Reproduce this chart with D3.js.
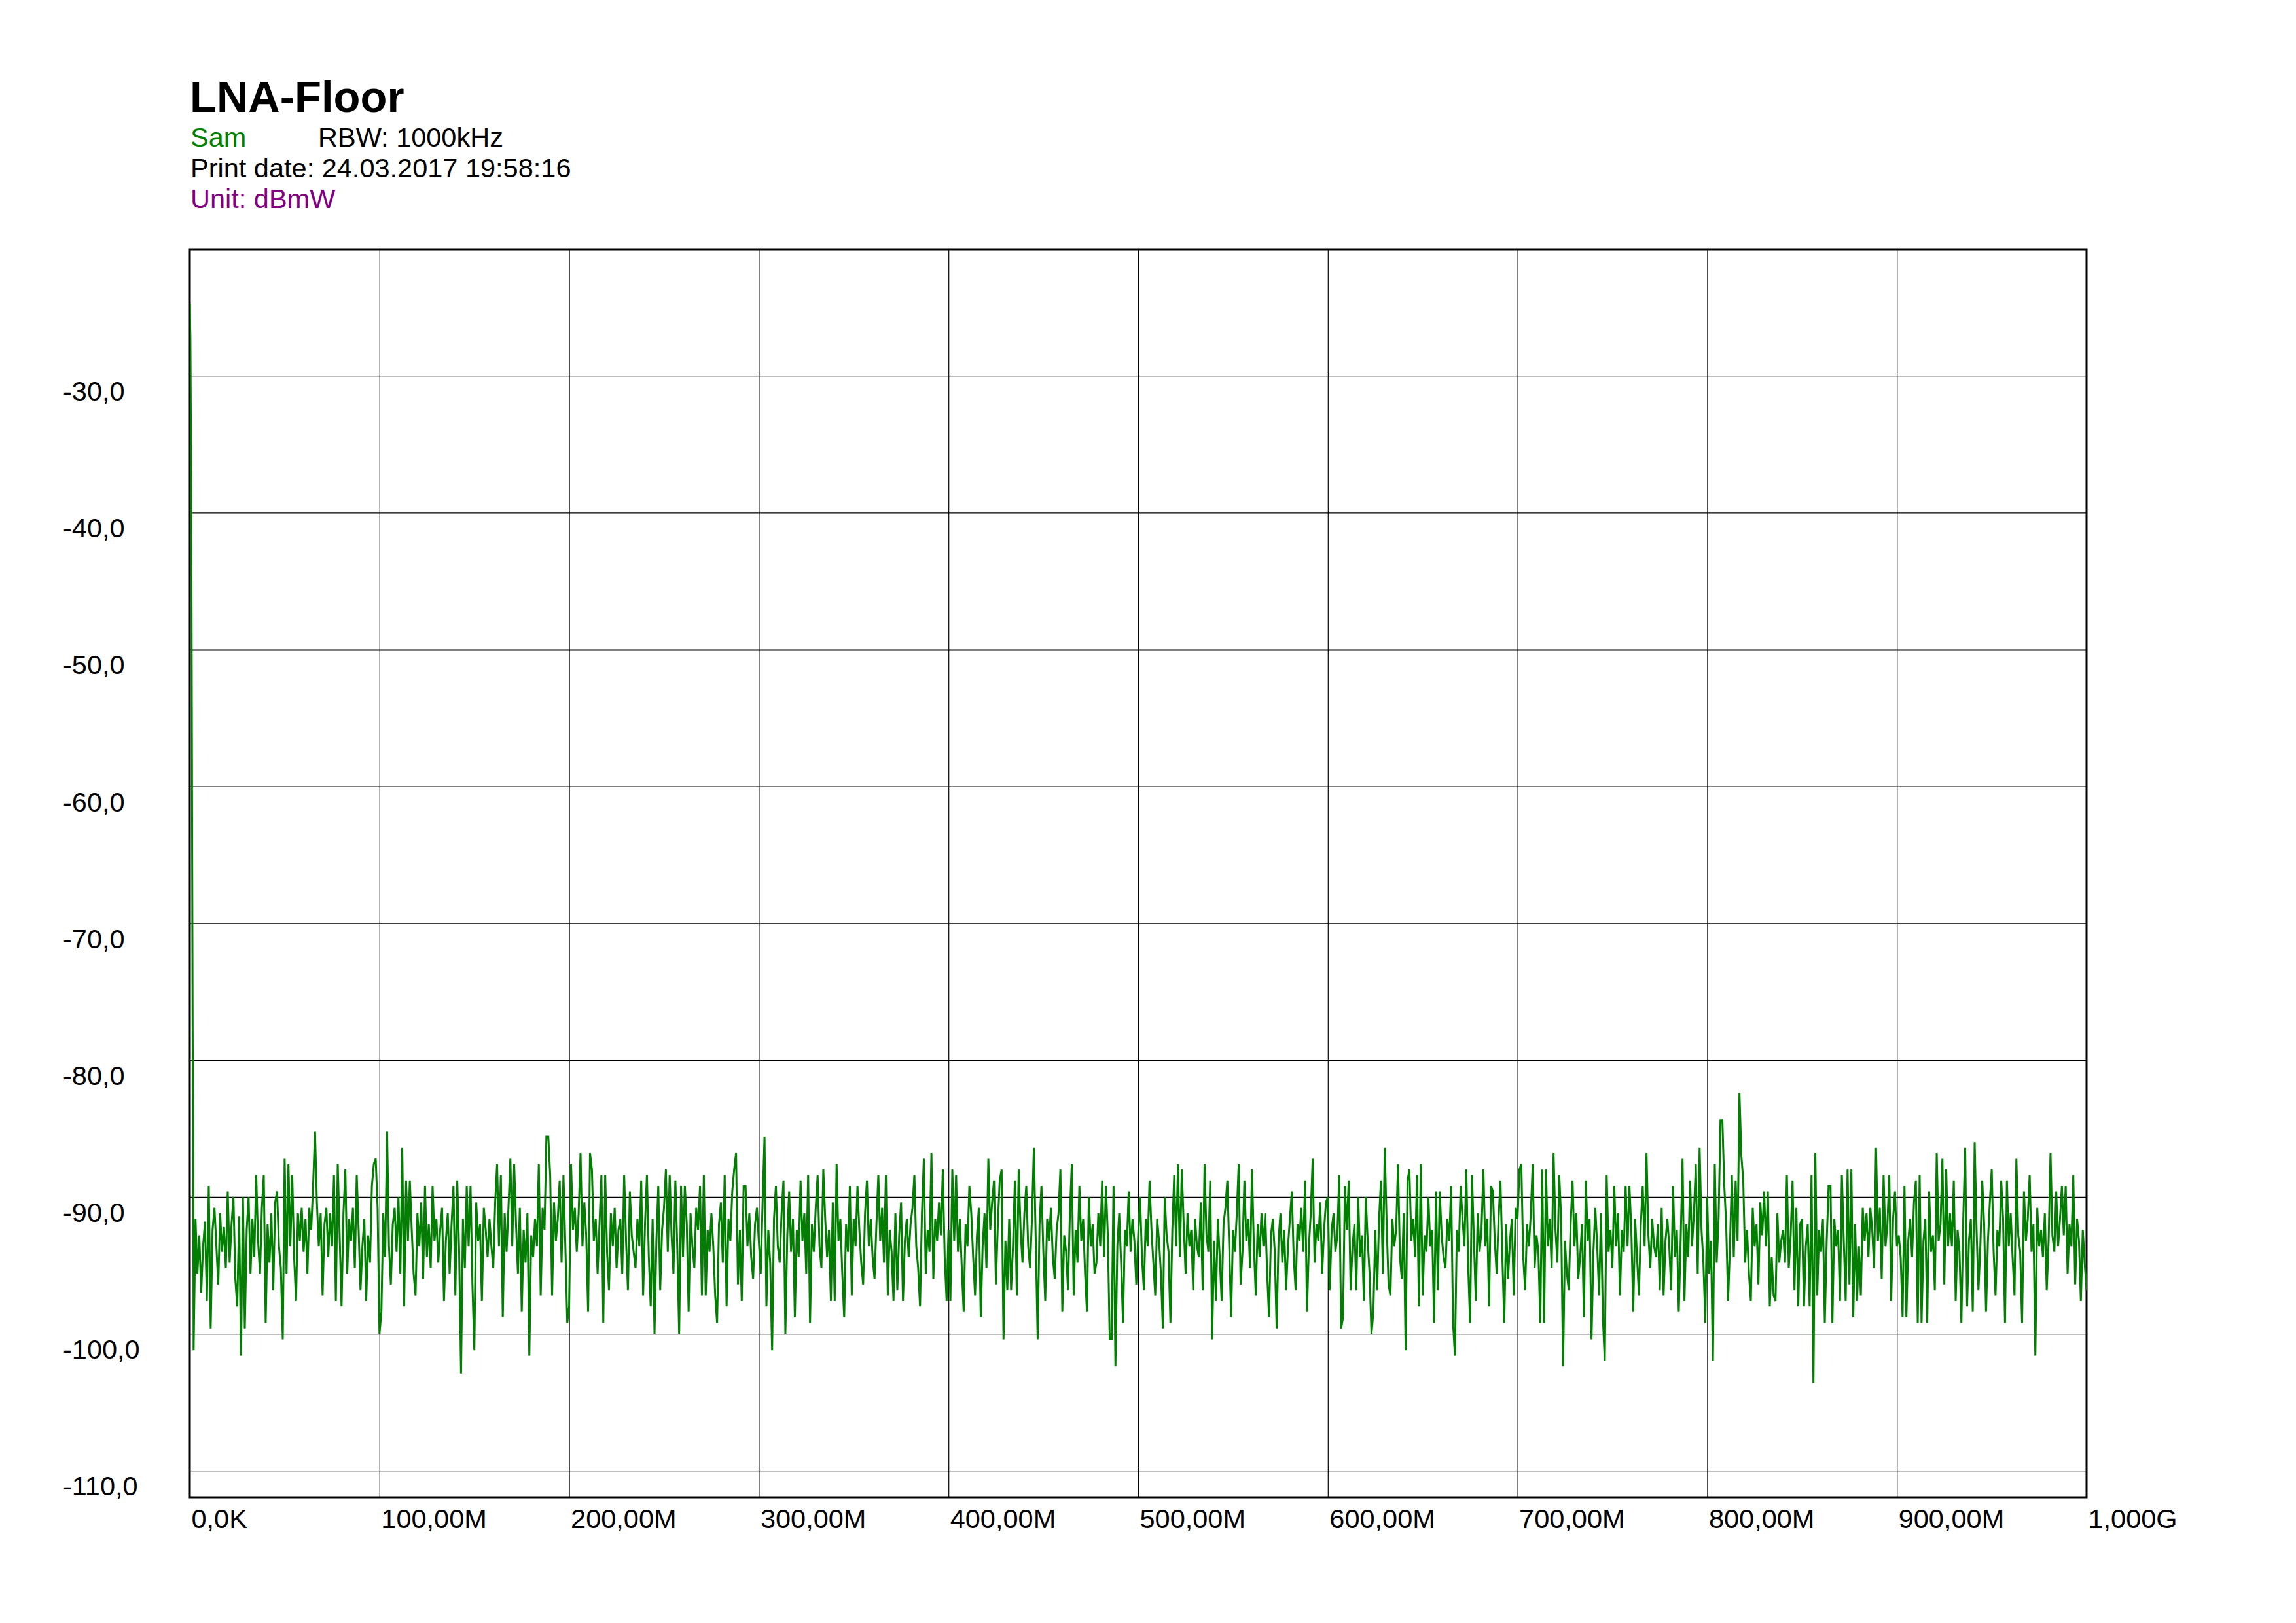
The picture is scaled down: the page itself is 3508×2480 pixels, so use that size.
<!DOCTYPE html>
<html>
<head>
<meta charset="utf-8">
<script src="https://cdn.jsdelivr.net/npm/d3@7"></script>
<style>
  html, body { margin: 0; padding: 0; background: #ffffff; }
  svg { display: block; }
  text { font-family: "Liberation Sans", Arial, Helvetica, sans-serif; }
</style>
</head>
<body>
<script>
// ---------------- DATA ----------------
const chartTitle = "LNA-Floor";
const traceName = "Sam";
const rbwText = "RBW: 1000kHz";
const printDate = "Print date: 24.03.2017 19:58:16";
const unitText = "Unit: dBmW";

// frequency axis (MHz)
const xTickValues = [0, 100, 200, 300, 400, 500, 600, 700, 800, 900, 1000];
const xTickLabels = ["0,0K", "100,00M", "200,00M", "300,00M", "400,00M", "500,00M",
                     "600,00M", "700,00M", "800,00M", "900,00M", "1,000G"];
// level axis (dBmW)
const yTickValues = [-30, -40, -50, -60, -70, -80, -90, -100, -110];
const yTickLabels = ["-30,0", "-40,0", "-50,0", "-60,0", "-70,0", "-80,0", "-90,0", "-100,0", "-110,0"];
const yDomain = [-111.95, -20.76];
const xDomain = [0, 1000];

// carrier skirt near 0 Hz (MHz, dBmW)
const peakFreqMHz = [0, 0.3, 0.6, 0.9, 1.2, 1.5, 1.8];
const peakLevel   = [-24.7, -27.2, -34.9, -45.5, -61.9, -77.7, -87.3];

// noise floor trace, 1 MHz steps from 2 MHz to 1000 MHz
const noiseStartMHz = 2;
const noiseStepMHz = 1;
const noiseLevel = [
  // 2-9
  -101.2, -91.6, -95.6, -92.8, -97.0, -93.6, -91.8, -97.6,
  // 10-99
  -89.2, -99.6, -92.4, -90.8, -93.6, -96.4, -91.2, -94.0, -92.2, -95.2,
  -89.6, -94.8, -92.0, -90.0, -96.0, -98.0, -91.4, -101.6, -90.0, -99.6,
  -92.4, -90.0, -95.6, -91.6, -94.4, -88.4, -93.2, -95.6, -90.8, -88.4,
  -99.2, -92.0, -94.8, -91.2, -96.8, -90.4, -89.6, -93.6, -95.2, -100.4,
  -87.2, -95.6, -87.6, -93.6, -88.4, -94.4, -97.6, -91.2, -93.2, -90.8,
  -94.0, -91.6, -95.6, -90.8, -92.4, -89.2, -85.2, -90.4, -93.6, -91.2,
  -97.2, -92.0, -90.8, -94.4, -91.2, -93.6, -88.4, -97.6, -87.6, -92.8,
  -98.0, -91.2, -88.0, -95.6, -91.6, -93.2, -90.8, -95.2, -88.4, -92.4,
  -96.8, -93.6, -91.6, -97.6, -92.8, -94.8, -89.2, -87.6, -87.2, -90.8,
  // 100-199
  -100.0, -98.4, -91.2, -94.4, -85.2, -93.6, -96.4, -92.0, -90.8, -94.0,
  -90.0, -95.6, -86.4, -98.0, -88.8, -93.2, -88.8, -92.4, -95.6, -97.2,
  -91.2, -93.6, -90.4, -96.0, -89.2, -94.4, -92.0, -95.2, -89.2, -93.2,
  -91.6, -94.8, -92.4, -90.8, -97.6, -93.2, -91.2, -95.6, -92.0, -89.2,
  -97.2, -88.8, -94.0, -102.9, -91.6, -95.2, -89.2, -93.6, -89.2, -96.4,
  -101.2, -90.4, -93.2, -92.0, -97.6, -90.8, -92.4, -94.4, -91.6, -93.6,
  -95.2, -90.4, -87.6, -93.6, -88.4, -98.8, -91.2, -94.0, -90.8, -87.2,
  -93.6, -87.6, -92.0, -95.6, -90.8, -98.4, -92.4, -94.8, -91.2, -101.6,
  -92.8, -94.4, -91.6, -93.6, -87.6, -97.2, -90.8, -92.4, -85.6, -85.6,
  -88.4, -97.2, -90.4, -93.2, -91.6, -88.8, -94.8, -88.4, -93.6, -99.2,
  // 200-299
  -98.0, -87.6, -92.4, -90.8, -94.0, -91.2, -86.8, -93.6, -90.4, -92.8,
  -98.4, -86.8, -88.0, -93.2, -91.6, -95.6, -92.0, -88.4, -99.2, -88.4,
  -94.0, -96.8, -91.2, -93.6, -90.8, -95.2, -92.4, -91.6, -95.6, -88.4,
  -93.2, -96.8, -89.6, -92.8, -94.0, -95.2, -91.6, -93.6, -88.8, -97.2,
  -92.0, -88.4, -94.4, -98.0, -91.6, -100.0, -93.2, -89.2, -96.8, -92.4,
  -90.8, -88.0, -94.0, -88.4, -92.8, -95.6, -88.8, -93.6, -100.0, -89.2,
  -94.4, -89.2, -92.0, -98.4, -91.2, -93.6, -95.2, -90.8, -92.4, -89.2,
  -97.2, -88.4, -97.2, -92.4, -94.0, -91.2, -93.6, -97.2, -99.2, -92.0,
  -90.4, -94.8, -88.4, -98.0, -91.6, -93.2, -89.6, -88.0, -86.8, -96.4,
  -92.4, -97.6, -89.2, -89.2, -93.6, -91.2, -94.4, -96.0, -92.0, -90.8,
  // 300-399
  -93.2, -95.6, -90.4, -85.6, -98.0, -92.4, -94.8, -101.2, -91.6, -89.2,
  -93.6, -94.8, -91.2, -88.8, -100.0, -92.8, -89.6, -94.0, -91.6, -98.8,
  -92.4, -94.4, -88.8, -93.2, -91.2, -95.6, -88.4, -99.2, -92.0, -94.0,
  -90.8, -88.4, -93.6, -95.2, -88.0, -91.6, -94.4, -92.4, -97.6, -90.4,
  -97.6, -87.6, -93.2, -91.6, -95.6, -98.8, -92.0, -94.0, -89.2, -97.2,
  -91.6, -93.6, -89.2, -92.4, -94.8, -96.4, -91.2, -88.8, -93.6, -91.6,
  -94.4, -96.0, -92.0, -88.4, -93.2, -90.8, -94.8, -88.4, -97.2, -92.4,
  -94.0, -97.6, -91.2, -96.8, -92.8, -90.4, -97.6, -93.2, -91.6, -94.4,
  -92.0, -90.8, -88.4, -93.6, -95.2, -98.0, -91.2, -87.2, -95.6, -92.4,
  -94.0, -86.8, -96.0, -91.6, -93.2, -90.4, -92.8, -88.0, -94.4, -97.6,
  // 400-499
  -92.4, -97.6, -88.0, -93.2, -88.4, -94.0, -91.6, -95.2, -98.4, -92.0,
  -93.6, -89.2, -91.2, -94.4, -97.2, -92.8, -90.8, -98.8, -93.6, -91.2,
  -95.2, -87.2, -92.4, -90.4, -88.8, -96.4, -92.0, -88.8, -88.0, -100.4,
  -93.2, -96.8, -91.6, -96.8, -93.6, -88.8, -97.2, -88.0, -92.4, -94.8,
  -91.2, -89.2, -93.6, -95.2, -91.6, -86.4, -93.2, -100.4, -92.0, -89.2,
  -94.0, -97.6, -91.6, -93.2, -90.8, -94.4, -96.0, -92.4, -91.2, -88.0,
  -98.4, -92.8, -94.0, -96.8, -91.2, -87.6, -97.2, -92.4, -94.8, -89.2,
  -93.2, -91.6, -95.6, -98.4, -90.0, -93.6, -92.0, -95.6, -94.8, -91.2,
  -93.6, -88.8, -94.4, -89.2, -92.8, -100.4, -100.4, -89.2, -102.4, -93.6,
  -91.2, -94.8, -99.2, -92.4, -93.6, -89.6, -94.0, -91.6, -93.2, -96.4,
  // 500-599
  -92.8, -90.0, -94.4, -96.8, -91.6, -93.6, -88.8, -92.4, -94.8, -97.2,
  -91.6, -93.2, -95.6, -99.6, -90.0, -92.8, -94.0, -99.2, -92.4, -88.4,
  -93.6, -87.6, -94.4, -88.0, -92.0, -95.6, -91.2, -93.6, -92.4, -96.8,
  -91.6, -93.6, -94.4, -90.4, -96.8, -87.6, -92.8, -94.0, -88.8, -100.4,
  -93.2, -97.6, -91.6, -94.4, -97.6, -92.0, -90.8, -88.8, -93.6, -98.8,
  -92.4, -94.0, -91.2, -87.6, -96.4, -94.0, -88.8, -93.2, -91.6, -95.2,
  -88.0, -93.6, -97.2, -92.0, -94.4, -91.2, -93.6, -91.2, -95.6, -98.8,
  -92.8, -91.6, -94.0, -99.6, -93.2, -91.2, -94.8, -92.4, -96.8, -93.6,
  -91.6, -89.6, -94.4, -96.8, -92.0, -93.2, -90.8, -94.0, -88.8, -98.4,
  -93.6, -91.2, -87.2, -94.8, -92.0, -93.2, -90.4, -95.6, -92.4, -90.4,
  // 600-699
  -90.0, -96.8, -92.4, -91.2, -94.0, -92.8, -88.4, -99.6, -98.8, -89.2,
  -92.4, -88.8, -96.8, -93.6, -92.0, -96.8, -90.0, -94.4, -92.8, -97.6,
  -90.0, -93.2, -95.6, -100.0, -98.4, -92.4, -96.8, -91.6, -88.8, -95.6,
  -86.4, -92.0, -96.4, -97.2, -91.6, -93.6, -92.4, -87.6, -94.4, -96.0,
  -91.2, -101.2, -88.8, -88.0, -93.2, -91.6, -94.4, -88.4, -98.0, -87.6,
  -97.2, -92.8, -94.0, -90.0, -93.6, -92.4, -99.2, -89.6, -96.8, -89.6,
  -92.8, -94.4, -95.2, -91.6, -93.2, -89.2, -99.2, -101.6, -92.4, -94.0,
  -89.2, -91.6, -93.6, -88.0, -95.2, -99.2, -88.4, -93.2, -97.6, -91.2,
  -94.0, -92.4, -88.0, -93.6, -91.6, -98.0, -89.2, -89.6, -93.2, -95.6,
  -91.6, -88.8, -94.4, -99.2, -92.0, -96.0, -93.2, -91.6, -97.2, -90.8,
  // 700-799
  -91.6, -88.0, -87.6, -94.4, -96.8, -92.0, -93.6, -91.2, -87.6, -95.2,
  -92.8, -94.0, -99.2, -88.0, -99.2, -88.0, -93.6, -91.6, -95.2, -86.8,
  -92.4, -94.8, -88.4, -91.6, -102.4, -93.2, -95.6, -96.8, -92.0, -88.8,
  -93.6, -91.2, -96.0, -94.4, -92.0, -98.8, -88.8, -93.2, -91.6, -100.4,
  -94.0, -90.8, -93.6, -97.2, -91.2, -98.8, -102.0, -88.4, -94.0, -92.4,
  -95.2, -89.2, -93.6, -91.2, -97.2, -92.4, -94.0, -89.2, -93.6, -89.2,
  -92.4, -98.4, -91.6, -94.4, -97.2, -92.0, -89.2, -93.6, -86.8, -92.8,
  -95.2, -91.6, -93.6, -94.4, -92.0, -96.8, -90.8, -97.2, -93.2, -91.6,
  -93.6, -96.8, -89.2, -94.4, -92.4, -98.4, -93.2, -87.2, -97.6, -92.0,
  -94.4, -88.8, -93.6, -91.2, -87.6, -95.6, -86.4, -92.4, -94.8, -99.2,
  // 800-899
  -90.0, -95.6, -93.2, -102.0, -87.6, -94.8, -91.6, -84.4, -84.4, -89.2,
  -92.0, -97.6, -93.6, -88.4, -94.4, -88.8, -93.2, -82.4, -87.0, -88.8,
  -94.8, -92.4, -95.6, -97.6, -90.8, -93.6, -92.0, -96.4, -90.4, -92.8,
  -89.6, -93.6, -89.6, -98.0, -94.4, -97.2, -97.6, -91.2, -94.8, -93.2,
  -92.4, -94.8, -88.4, -95.2, -92.8, -88.8, -96.8, -90.8, -98.0, -92.0,
  -91.6, -98.0, -93.6, -92.0, -98.0, -88.4, -103.6, -86.8, -97.2, -92.4,
  -94.0, -91.6, -99.2, -93.2, -89.2, -89.2, -99.2, -91.6, -93.6, -92.4,
  -97.6, -88.4, -93.2, -97.6, -88.0, -96.4, -88.0, -98.8, -92.0, -97.6,
  -93.6, -97.2, -90.8, -93.2, -91.2, -94.4, -90.8, -92.4, -95.2, -86.4,
  -93.2, -90.8, -96.0, -88.4, -93.6, -92.0, -88.4, -97.6, -91.6, -89.6,
  // 900-999
  -93.6, -92.8, -94.4, -98.8, -89.2, -98.8, -93.2, -91.6, -94.4, -90.4,
  -88.8, -99.2, -88.4, -99.2, -93.2, -91.6, -99.2, -89.6, -94.0, -92.8,
  -96.8, -86.8, -93.2, -92.0, -87.2, -96.4, -88.0, -93.6, -91.2, -93.6,
  -88.8, -97.6, -92.4, -94.0, -99.2, -91.6, -86.4, -98.0, -93.2, -91.6,
  -98.4, -86.0, -92.4, -96.8, -93.6, -88.8, -92.0, -98.4, -93.2, -90.4,
  -88.0, -94.0, -97.2, -92.4, -93.6, -88.8, -91.6, -99.2, -88.8, -93.6,
  -91.2, -94.4, -97.2, -87.2, -92.8, -94.0, -99.2, -89.6, -93.2, -91.6,
  -88.4, -94.0, -92.0, -101.6, -90.8, -93.6, -92.4, -94.4, -91.2, -96.8,
  -93.2, -86.8, -92.8, -94.0, -89.6, -93.6, -91.6, -89.2, -92.8, -89.2,
  -95.6, -92.0, -93.6, -88.4, -96.4, -91.6, -93.2, -97.6, -92.4, -94.8,
  // 1000
  -96.8
];

// ---------------- DRAWING ----------------
const W = 3508, H = 2480;
const plotLeft = 290, plotRight = 3188, plotTop = 381, plotBottom = 2288;
const smallFont = 41.5;

const svg = d3.select("body").append("svg")
  .attr("width", W).attr("height", H)
  .attr("viewBox", `0 0 ${W} ${H}`);

svg.append("rect").attr("width", W).attr("height", H).attr("fill", "#ffffff");

const x = d3.scaleLinear().domain(xDomain).range([plotLeft, plotRight]);
const y = d3.scaleLinear().domain(yDomain).range([plotBottom, plotTop]);

// header texts
svg.append("text").attr("x", 290).attr("y", 171)
  .attr("font-size", 67).attr("font-weight", "bold").attr("fill", "#000")
  .text(chartTitle);
svg.append("text").attr("x", 291).attr("y", 224)
  .attr("font-size", smallFont).attr("fill", "#008000").text(traceName);
svg.append("text").attr("x", 486).attr("y", 224)
  .attr("font-size", smallFont).attr("fill", "#000").text(rbwText);
svg.append("text").attr("x", 291).attr("y", 271)
  .attr("font-size", smallFont).attr("fill", "#000").text(printDate);
svg.append("text").attr("x", 291).attr("y", 318)
  .attr("font-size", smallFont).attr("fill", "#800080").text(unitText);

// grid via axes
const xGrid = d3.axisBottom(x)
  .tickValues(xTickValues.slice(1, -1))
  .tickSize(-(plotBottom - plotTop))
  .tickFormat("");
svg.append("g").attr("transform", `translate(0,${plotBottom})`)
  .call(xGrid)
  .call(g => g.select(".domain").remove())
  .call(g => g.selectAll("line").attr("stroke", "#000").attr("stroke-width", 1.2));

const yGrid = d3.axisLeft(y)
  .tickValues(yTickValues)
  .tickSize(-(plotRight - plotLeft))
  .tickFormat("");
svg.append("g").attr("transform", `translate(${plotLeft},0)`)
  .call(yGrid)
  .call(g => g.select(".domain").remove())
  .call(g => g.selectAll("line").attr("stroke", "#000").attr("stroke-width", 1.2));

// tick labels (left aligned, below tick position)
const xLab = d3.axisBottom(x).tickValues(xTickValues).tickSize(0)
  .tickFormat((d, i) => xTickLabels[i]);
svg.append("g").attr("transform", `translate(0,${plotBottom})`)
  .call(xLab)
  .call(g => g.select(".domain").remove())
  .call(g => g.selectAll("text")
    .attr("font-family", '"Liberation Sans", Arial, sans-serif')
    .attr("font-size", smallFont).attr("fill", "#000")
    .attr("text-anchor", "start").attr("dx", 2).attr("dy", null).attr("y", 47));

const yLab = d3.axisLeft(y).tickValues(yTickValues).tickSize(0)
  .tickFormat((d, i) => yTickLabels[i]);
svg.append("g").attr("transform", `translate(${plotLeft},0)`)
  .call(yLab)
  .call(g => g.select(".domain").remove())
  .call(g => g.selectAll("text")
    .attr("font-family", '"Liberation Sans", Arial, sans-serif')
    .attr("font-size", smallFont).attr("fill", "#000")
    .attr("text-anchor", "start").attr("x", 96 - plotLeft)
    .attr("dy", null).attr("y", 37.5));

// frame
svg.append("rect")
  .attr("x", plotLeft).attr("y", plotTop)
  .attr("width", plotRight - plotLeft).attr("height", plotBottom - plotTop)
  .attr("fill", "none").attr("stroke", "#000").attr("stroke-width", 3);

// trace
const trace = peakFreqMHz.map((f, i) => ({ f, v: peakLevel[i] }))
  .concat(noiseLevel.map((v, i) => ({ f: noiseStartMHz + i * noiseStepMHz, v })));

svg.append("clipPath").attr("id", "plotClip")
  .append("rect").attr("x", plotLeft).attr("y", plotTop)
  .attr("width", plotRight - plotLeft).attr("height", plotBottom - plotTop);

const line = d3.line().x(d => x(d.f)).y(d => y(d.v));
svg.append("path")
  .datum(trace)
  .attr("clip-path", "url(#plotClip)")
  .attr("fill", "none")
  .attr("stroke", "#007f00")
  .attr("stroke-width", 3)
  .attr("stroke-linejoin", "miter")
  .attr("stroke-miterlimit", 2)
  .attr("d", line);
</script>
</body>
</html>
